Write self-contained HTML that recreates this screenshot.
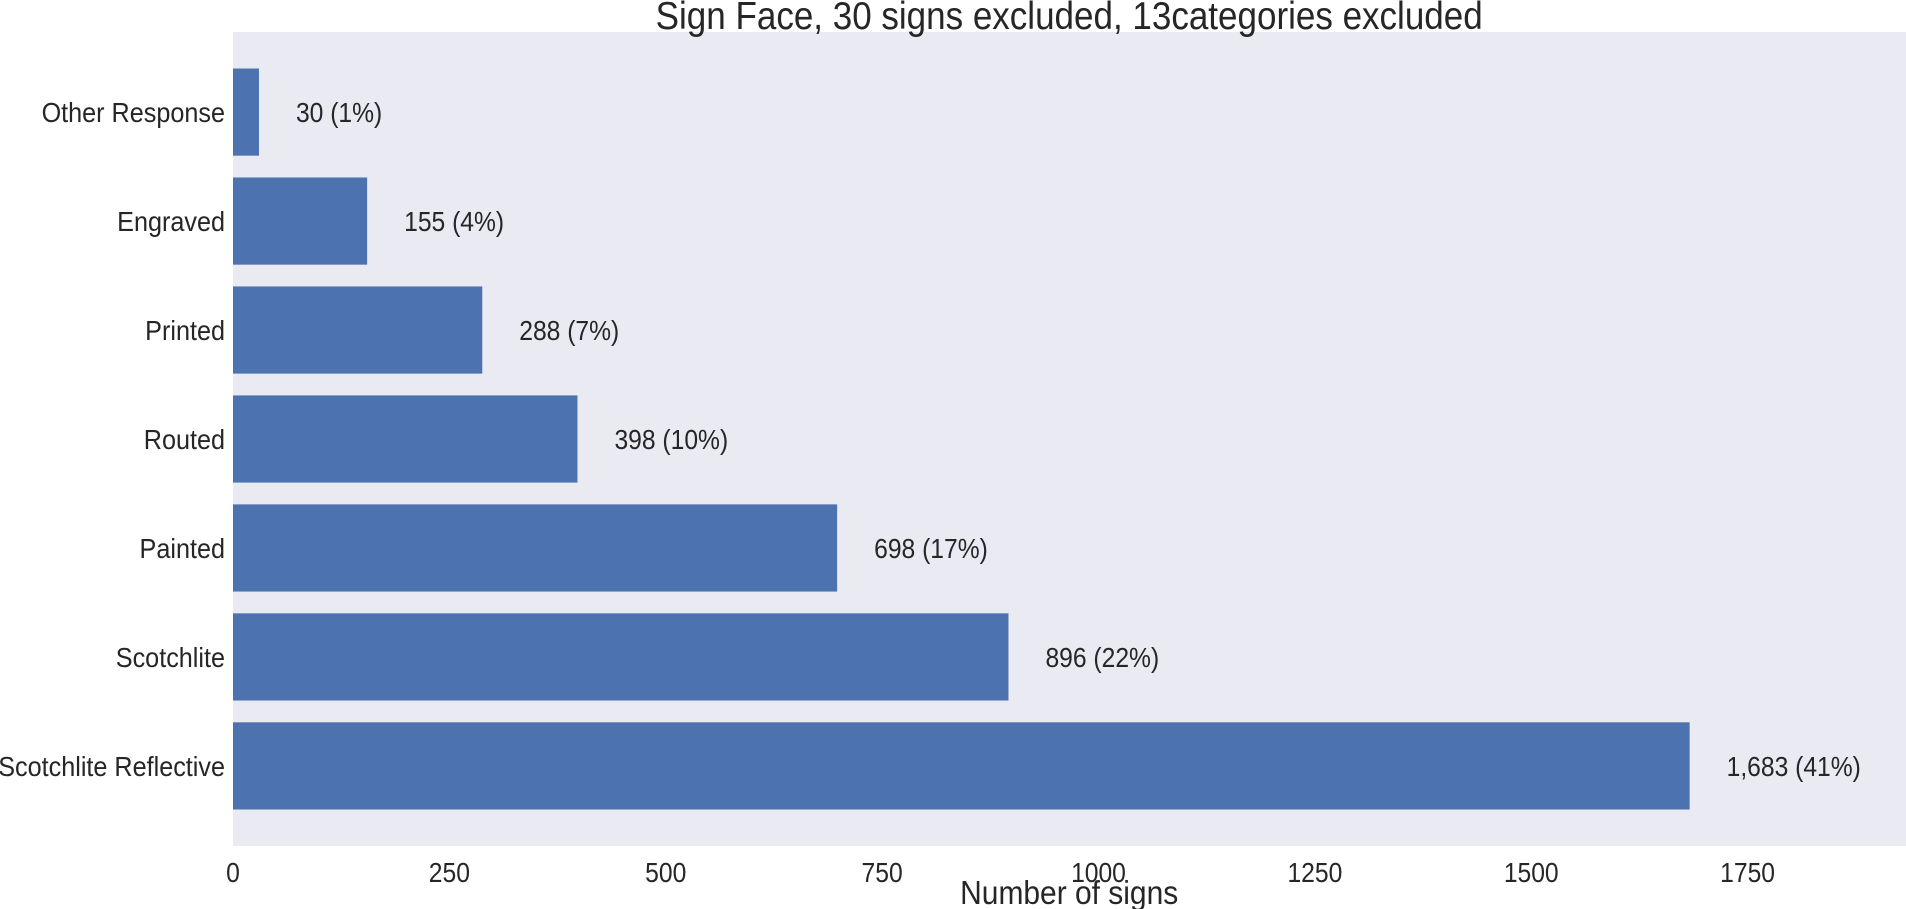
<!DOCTYPE html>
<html><head><meta charset="utf-8"><style>
html,body{margin:0;padding:0;background:#fff;}
svg{display:block;font-family:"Liberation Sans",Arial,sans-serif;}
</style></head><body>
<svg id="chart" width="1906" height="909">
<rect x="233" y="32" width="1673" height="814" fill="#eaeaf2"/>
<g transform="scale(0.9,1)">
<text x="1188" y="29" font-size="38.9" text-anchor="middle" fill="#262626">Sign Face, 30 signs excluded, 13categories excluded</text>
<text x="1188" y="904" font-size="33.3" text-anchor="middle" fill="#262626">Number of signs</text>
<g id="ylabels"></g><g id="xticks"></g><g id="vals"></g>
</g>
<g id="bars"></g>
</svg>
<script>
const categories=["Other Response","Engraved","Printed","Routed","Painted","Scotchlite","Scotchlite Reflective"];
const values=[30,155,288,398,698,896,1683];
const valueLabels=["30 (1%)","155 (4%)","288 (7%)","398 (10%)","698 (17%)","896 (22%)","1,683 (41%)"];
const xTicks=[0,250,500,750,1000,1250,1500,1750];

const L=233,R=1906,T=32,B=846,XMAX=1933,SX=0.9;
const yMin=-0.735,yMax=6.735;
const x=v=>L+(v/XMAX)*(R-L);
const y=i=>T+(i-yMin)/(yMax-yMin)*(B-T);
const band=(B-T)/(yMax-yMin),bh=band*0.8;
const NS="http://www.w3.org/2000/svg";
function mk(tag,parent){const e=document.createElementNS(NS,tag);document.getElementById(parent).appendChild(e);return e;}
categories.forEach((c,i)=>{
  const r=mk('rect','bars');
  r.setAttribute('x',x(0));r.setAttribute('y',y(i)-bh/2);
  r.setAttribute('width',x(values[i])-x(0));r.setAttribute('height',bh);r.setAttribute('fill','#4c72b0');
  
  
  const t=mk('text','ylabels');
  t.setAttribute('x',(L-8)/SX);t.setAttribute('y',y(i)+10);t.setAttribute('font-size','28');
  t.setAttribute('text-anchor','end');t.setAttribute('fill','#262626');t.textContent=c;
  
  
  const v=mk('text','vals');
  v.setAttribute('x',(x(values[i])+37)/SX);v.setAttribute('y',y(i)+10);v.setAttribute('font-size','27.4');
  v.setAttribute('fill','#262626');v.textContent=valueLabels[i];
  
  
});
xTicks.forEach(tk=>{
  const t=mk('text','xticks');
  t.setAttribute('x',x(tk)/SX);t.setAttribute('y',882);t.setAttribute('font-size','27.4');
  t.setAttribute('text-anchor','middle');t.setAttribute('fill','#262626');t.textContent=tk;
  
  
});
</script>
</body></html>
